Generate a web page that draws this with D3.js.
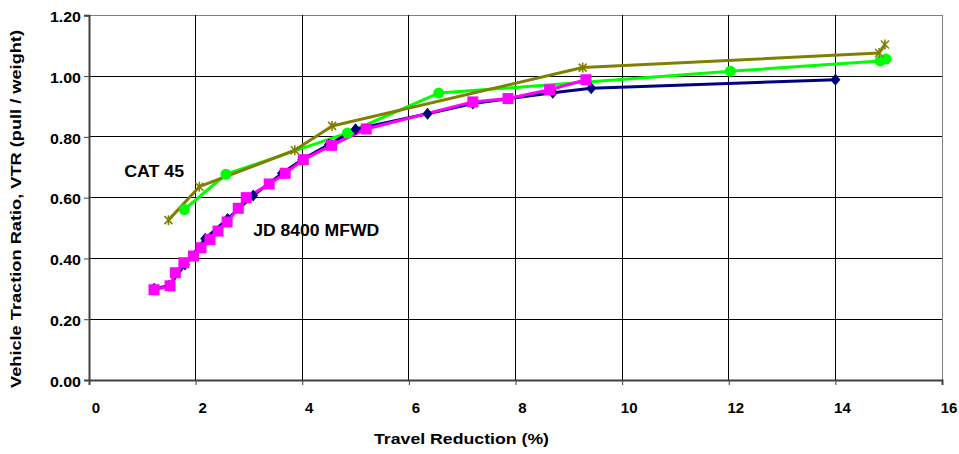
<!DOCTYPE html>
<html>
<head>
<meta charset="utf-8">
<script src="https://cdn.jsdelivr.net/npm/d3@7"></script>
<style>
  html, body { margin: 0; padding: 0; background: #fff; }
  svg { display: block; font-family: "Liberation Sans", Arial, sans-serif; font-weight: bold; }
</style>
</head>
<body>
<svg id="chart" width="959" height="454"></svg>
<script>
// ---- data ----
const xTicks = [0, 2, 4, 6, 8, 10, 12, 14, 16];
const yTicks = [0, 0.2, 0.4, 0.6, 0.8, 1.0, 1.2];

const jdNavyX = [1.22, 1.5, 1.8, 2.18, 2.6, 3.08, 3.62, 4.0, 4.5, 5.0, 6.35, 7.2, 8.7, 9.42, 14.0];
const jdNavyY = [0.30, 0.31, 0.38, 0.465, 0.53, 0.607, 0.68, 0.725, 0.775, 0.825, 0.876, 0.91, 0.945, 0.96, 0.988];

const jdMagentaX = [1.22, 1.52, 1.62, 1.78, 1.96, 2.1, 2.27, 2.42, 2.59, 2.8, 2.95, 3.38, 3.68, 4.02, 4.55, 5.2, 7.2, 7.86, 8.64, 9.32];
const jdMagentaY = [0.297, 0.31, 0.353, 0.386, 0.408, 0.435, 0.462, 0.49, 0.52, 0.565, 0.60, 0.645, 0.68, 0.725, 0.772, 0.826, 0.915, 0.926, 0.955, 0.988];

const catGreenX = [1.79, 2.57, 4.85, 6.56, 12.03, 14.84, 14.95];
const catGreenY = [0.561, 0.677, 0.813, 0.944, 1.016, 1.05, 1.056];

const catOliveX = [1.49, 2.07, 3.86, 4.56, 9.26, 14.82, 14.93];
const catOliveY = [0.526, 0.636, 0.756, 0.836, 1.028, 1.076, 1.104];

const labels = [
  { text: "CAT 45", x: 0.66, y: 0.667, len: 60 },
  { text: "JD 8400 MFWD", x: 3.08, y: 0.473, len: 126 }
];

// ---- setup ----
const svg = d3.select("#chart");
const x = d3.scaleLinear().domain([0, 16]).range([89, 942]);
const y = d3.scaleLinear().domain([0, 1.2]).range([380, 15.3]);

const zip = (xs, ys) => xs.map((v, i) => [v, ys[i]]);

function stretch(sel, factor) {
  sel.each(function () {
    const w = this.getComputedTextLength();
    d3.select(this).attr("textLength", w * factor).attr("lengthAdjust", "spacingAndGlyphs");
  });
}

// gridlines
const grid = svg.append("g");
grid.selectAll("line.h").data(yTicks.filter(d => d > 0)).join("line")
  .attr("x1", x(0)).attr("x2", x(16))
  .attr("y1", d => y(d)).attr("y2", d => y(d))
  .attr("stroke", d => d === 1.2 ? "#808080" : "#000").attr("stroke-width", 1).attr("shape-rendering", "crispEdges");
grid.selectAll("line.v").data(xTicks.filter(d => d > 0)).join("line")
  .attr("x1", d => x(d)).attr("x2", d => x(d))
  .attr("y1", y(1.2)).attr("y2", y(0))
  .attr("stroke", d => d === 16 ? "#808080" : "#000").attr("stroke-width", 1).attr("shape-rendering", "crispEdges");

// axes
const yAxis = svg.append("g").attr("transform", `translate(${x(0)},0)`)
  .call(d3.axisLeft(y).tickValues(yTicks).tickFormat(d3.format(".2f")).tickSize(5).tickPadding(3));
yAxis.select(".domain").attr("stroke", "#404040").attr("stroke-width", 2);
yAxis.selectAll(".tick line").attr("stroke", "#404040").attr("stroke-width", 1);
yAxis.selectAll(".tick text").attr("font-size", 14).attr("font-weight", "bold").attr("fill", "#000")
  .attr("font-family", "Liberation Sans, Arial, sans-serif").attr("dy", "0.45em");
stretch(yAxis.selectAll(".tick text"), 1.14);

const xAxis = svg.append("g").attr("transform", `translate(0,${y(0)})`)
  .call(d3.axisBottom(x).tickValues(xTicks).tickFormat(d3.format("d")).tickSize(5).tickPadding(0));
xAxis.select(".domain").attr("stroke", "#404040").attr("stroke-width", 2);
xAxis.selectAll(".tick line").attr("stroke", "#404040").attr("stroke-width", 1);
xAxis.selectAll(".tick text").attr("font-size", 14).attr("font-weight", "bold").attr("fill", "#000")
  .attr("font-family", "Liberation Sans, Arial, sans-serif")
  .attr("x", 6.5).attr("y", 33).attr("dy", 0);
stretch(xAxis.selectAll(".tick text"), 1.07);

// axis titles
svg.append("text").attr("x", 461.5).attr("y", 444).attr("text-anchor", "middle")
  .attr("font-size", 15).text("Travel Reduction (%)")
  .attr("textLength", 175).attr("lengthAdjust", "spacingAndGlyphs");
svg.append("text").attr("transform", "translate(21,209) rotate(-90)").attr("text-anchor", "middle")
  .attr("font-size", 14.5).text("Vehicle Traction Ratio, VTR (pull / weight)")
  .attr("textLength", 358).attr("lengthAdjust", "spacingAndGlyphs");

// series
const line = d3.line().x(d => x(d[0])).y(d => y(d[1]));
const series = [
  { data: zip(catGreenX, catGreenY), color: "#00FF00", marker: "circle" },
  { data: zip(jdNavyX, jdNavyY), color: "#000080", marker: "diamond" },
  { data: zip(jdMagentaX, jdMagentaY), color: "#FF00FF", marker: "square" },
  { data: zip(catOliveX, catOliveY), color: "#808000", marker: "star" }
];

series.forEach(s => {
  svg.append("path").datum(s.data).attr("d", line)
    .attr("fill", "none").attr("stroke", s.color).attr("stroke-width", 3).attr("stroke-linejoin", "round");
});

series.forEach(s => {
  const g = svg.append("g");
  const pts = g.selectAll("g").data(s.data).join("g")
    .attr("transform", d => `translate(${x(d[0])},${y(d[1])})`);
  if (s.marker === "circle") {
    pts.append("circle").attr("r", 5.5).attr("fill", s.color);
  } else if (s.marker === "diamond") {
    pts.append("path").attr("d", "M0,-6L5,0L0,6L-5,0Z").attr("fill", s.color);
  } else if (s.marker === "square") {
    pts.append("rect").attr("x", -5.5).attr("y", -5.5).attr("width", 11).attr("height", 11).attr("fill", s.color);
  } else if (s.marker === "star") {
    pts.append("path").attr("d", "M-4,-4L4,4M-4,4L4,-4M0,-5L0,5")
      .attr("stroke", s.color).attr("stroke-width", 1.6).attr("fill", "none");
  }
});

// annotations
labels.forEach(l => {
  svg.append("text").attr("x", x(l.x)).attr("y", y(l.y)).attr("font-size", 16).attr("fill", "#000")
    .text(l.text).attr("textLength", l.len).attr("lengthAdjust", "spacingAndGlyphs");
});
</script>
</body>
</html>
